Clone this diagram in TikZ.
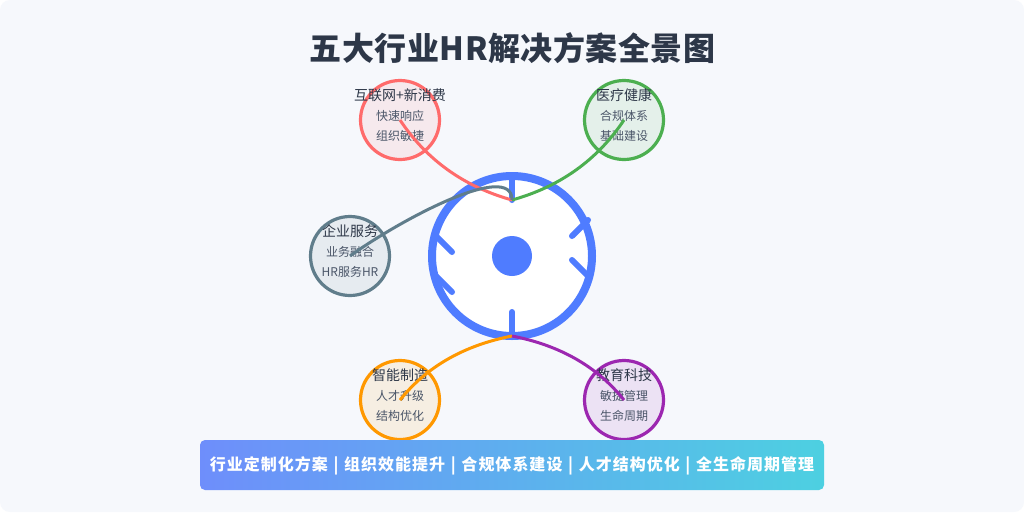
\documentclass[tikz,border=0pt]{standalone}
\usepackage{fontspec}
\setmainfont{Noto Sans CJK SC}
\definecolor{bgc}{HTML}{F6F8FC}
\definecolor{hubc}{HTML}{4F7CFF}
\definecolor{inkc}{HTML}{2D3748}
\definecolor{subc}{HTML}{4A5568}
\definecolor{redc}{HTML}{FF6B6B}
\definecolor{greenc}{HTML}{4CAF50}
\definecolor{greyc}{HTML}{607D8B}
\definecolor{orangec}{HTML}{FF9800}
\definecolor{purplec}{HTML}{9C27B0}
\definecolor{bandl}{HTML}{6E8EFB}
\definecolor{bandr}{HTML}{4DD0E1}
\tikzset{
  x=1pt,y=-1pt,
  sector/.style={circle,draw=#1,line width=3.2pt,fill=#1,fill opacity=.1,draw opacity=1,minimum size=79pt,inner sep=0pt},
  head/.style={text=inkc,font=\fontsize{14}{14}\selectfont,inner sep=0pt},
  sub/.style={text=subc,font=\fontsize{12}{12}\selectfont,inner sep=0pt},
  tick/.style={draw=hubc,line width=6pt,line cap=round},
  link/.style={draw=#1,line width=3pt},
}
\begin{document}
\begin{tikzpicture}
\useasboundingbox (0,0) rectangle (1024,512);
\fill[white] (0,0) rectangle (1024,512);
\fill[bgc,rounded corners=10pt] (0,0) rectangle (1024,512);
\node[inner sep=0pt,text=inkc,font=\fontsize{32}{32}\selectfont\bfseries\addfontfeature{LetterSpace=1.6}] (title) at (512.5,48.5) {五大行业HR解决方案全景图};
% hub
\node[circle,draw=hubc,line width=8pt,fill=white,minimum size=160pt,inner sep=0pt] (hub) at (512,256) {};
\node[circle,fill=hubc,minimum size=40pt,inner sep=0pt] (core) at (512,256) {};
\coordinate (top) at (512,200);
\coordinate (bot) at (512,336);
\draw[tick] (512,176) -- (top);
\draw[tick] (512,336) -- (512,312);
\draw[tick] (572,236) -- (588,220);
\draw[tick] (572,260) -- (588,276);
\draw[tick] (452,252) -- (436,236);
\draw[tick] (452,292) -- (436,276);
% sectors
\node[sector=redc] (a) at (400,120) {};
\node[sector=greenc] (b) at (624,120) {};
\node[sector=greyc] (c) at (350,256) {};
\node[sector=orangec] (d) at (400,400) {};
\node[sector=purplec] (e) at (624,400) {};
\node[head] (a1) at (400,95.5) {互联网+新消费};
\node[sub] (a2) at (400,116) {快速响应};
\node[sub] (a3) at (400,136) {组织敏捷};
\node[head] (b1) at (624,95.5) {医疗健康};
\node[sub] (b2) at (624,116) {合规体系};
\node[sub] (b3) at (624,136) {基础建设};
\node[head] (c1) at (350,231.5) {企业服务};
\node[sub] (c2) at (350,252) {业务融合};
\node[sub] (c3) at (350,272) {HR服务HR};
\node[head] (d1) at (400,375.5) {智能制造};
\node[sub] (d2) at (400,396) {人才升级};
\node[sub] (d3) at (400,416) {结构优化};
\node[head] (e1) at (624,375.5) {教育科技};
\node[sub] (e2) at (624,396) {敏捷管理};
\node[sub] (e3) at (624,416) {生命周期};
% connectors
\draw[link=redc] (a.center) .. controls (426.67,160) and (464,186.67) .. (top);
\draw[link=greenc] (b.center) .. controls (597.33,160) and (560,186.67) .. (top);
\draw[link=greyc] (c.center) .. controls (400,220) and (512,160) .. (top);
\draw[link=orangec] (d.center) .. controls (426.67,366.67) and (464,345.33) .. (bot);
\draw[link=purplec] (e.center) .. controls (597.33,366.67) and (560,345.33) .. (bot);
% banner
\shade[left color=bandl,right color=bandr,rounded corners=5pt] (200,440) rectangle (824,490);
\node[inner sep=0pt,text=white,font=\fontsize{16}{16}\selectfont\bfseries\addfontfeature{LetterSpace=6.25}] (band) at (512,466) {\spaceskip=\dimexpr\fontdimen2\font+1pt\relax 行业定制化方案 | 组织效能提升 | 合规体系建设 | 人才结构优化 | 全生命周期管理};
\end{tikzpicture}
\end{document}
